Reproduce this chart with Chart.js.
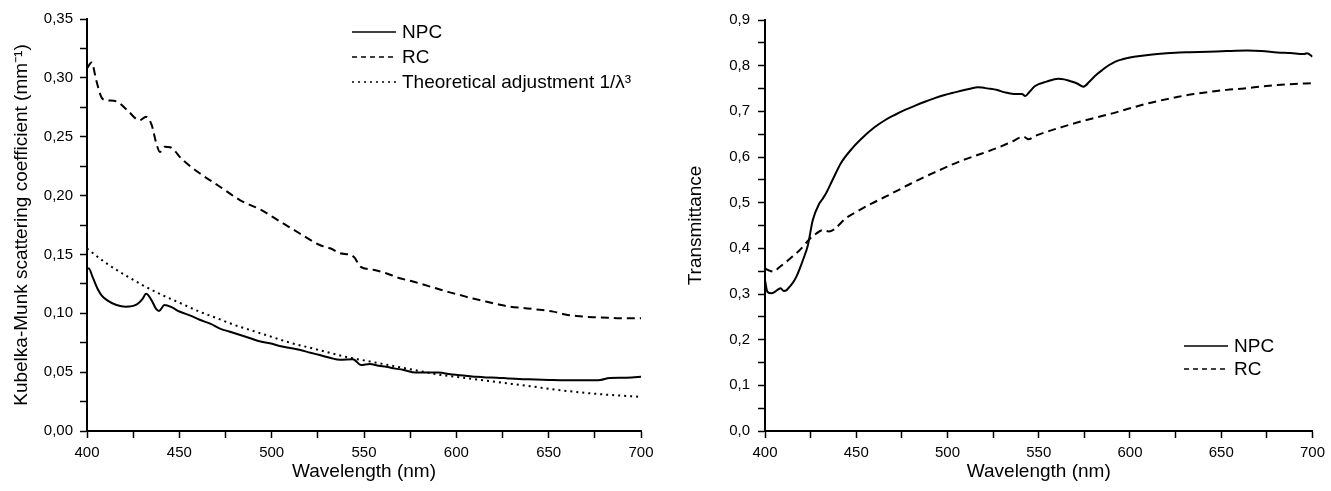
<!DOCTYPE html>
<html>
<head>
<meta charset="utf-8">
<script src="https://cdn.jsdelivr.net/npm/chart.js@4/dist/chart.umd.min.js"></script>
<style>
  body { margin: 0; background: #fff; }
  .panel { position: absolute; top: 0; }
</style>
</head>
<body>
<div class="panel" style="left:0"><canvas id="kmChart" width="660" height="491"></canvas></div>
<div class="panel" style="left:660px"><canvas id="transChart" width="671" height="491"></canvas></div>
<script>
// Kubelka-Munk scattering coefficient (left panel)
const kmNpcWl = [400, 401, 403, 406, 408, 411, 416, 421, 427, 430, 432, 435, 437.5, 439, 442, 446, 450, 456, 461, 467, 472, 477, 483, 488, 494, 499, 505, 510, 515, 521, 526, 532, 537, 544, 548.5, 553, 558, 562, 567, 571, 578, 585, 590, 598, 605, 611, 616, 622, 628, 634, 643, 652, 660, 667, 674, 678, 683, 690, 695, 700];
const kmNpcVal = [0.138, 0.138, 0.131, 0.120, 0.115, 0.111, 0.107, 0.1055, 0.1075, 0.112, 0.1165, 0.111, 0.1035, 0.102, 0.107, 0.105, 0.1015, 0.098, 0.0945, 0.091, 0.087, 0.0845, 0.0815, 0.079, 0.076, 0.0745, 0.072, 0.0705, 0.069, 0.0665, 0.0645, 0.062, 0.0605, 0.061, 0.056, 0.057, 0.0555, 0.0545, 0.053, 0.052, 0.0496, 0.0497, 0.0496, 0.048, 0.047, 0.046, 0.0455, 0.0453, 0.0447, 0.0442, 0.0438, 0.0433, 0.0431, 0.0431, 0.0432, 0.0434, 0.045, 0.0452, 0.0455, 0.046];

const kmRcWl = [400, 402.5, 405, 408, 410.5, 416, 421.5, 428.5, 432, 435, 437.5, 439.5, 442, 445, 452, 461, 472, 483, 494, 504.5, 515, 526, 532, 537, 543, 545, 548, 555, 562, 569, 577, 583, 589, 596, 602, 609, 616.5, 623, 629, 636, 643.5, 652.5, 659, 665, 670, 676, 682, 688.6, 695, 700];
const kmRcVal = [0.308, 0.313, 0.298, 0.283, 0.281, 0.280, 0.273, 0.264, 0.267, 0.260, 0.2445, 0.237, 0.2415, 0.241, 0.230, 0.219, 0.2075, 0.196, 0.188, 0.178, 0.168, 0.158, 0.155, 0.151, 0.1495, 0.147, 0.1396, 0.137, 0.134, 0.130, 0.1268, 0.124, 0.1212, 0.118, 0.1155, 0.1125, 0.1098, 0.1075, 0.1056, 0.1045, 0.1033, 0.1014, 0.099, 0.0977, 0.097, 0.0966, 0.0962, 0.0957, 0.0957, 0.0957];

const kmTheoWl = [400, 410, 420, 430, 440, 450, 460, 470, 480, 490, 500, 510, 520, 530, 540, 550, 560, 570, 580, 590, 600, 620, 640, 660, 680, 700];
const kmTheoVal = [0.155, 0.143, 0.133, 0.124, 0.116, 0.109, 0.102, 0.096, 0.090, 0.085, 0.080, 0.075, 0.071, 0.067, 0.063, 0.060, 0.057, 0.054, 0.051, 0.048, 0.046, 0.042, 0.038, 0.034, 0.031, 0.029];

// Transmittance (right panel)
const trNpcWl = [400, 401.3, 403.6, 405.5, 407.2, 408.5, 410.3, 412, 413.5, 415.5, 417.2, 419, 420.8, 423.5, 426.2, 429.8, 431.5, 433.4, 437, 441.5, 447.8, 455, 460, 465.9, 471, 476.7, 482, 487.6, 493, 498.4, 504, 509.2, 513, 516.4, 519, 521.8, 527.3, 531, 536.3, 540.8, 542.6, 545, 548, 554.3, 560.7, 564, 567, 571, 574.5, 578, 581.4, 585, 588.6, 592, 595.9, 600, 606.7, 615, 624.7, 633, 642.8, 653, 664.4, 672, 680.7, 688, 695.1, 697, 700];
const trNpcVal = [0.33, 0.305, 0.3015, 0.305, 0.310, 0.3124, 0.3065, 0.309, 0.316, 0.326, 0.338, 0.355, 0.3745, 0.407, 0.462, 0.4985, 0.508, 0.520, 0.5496, 0.586, 0.619, 0.648, 0.665, 0.681, 0.692, 0.703, 0.712, 0.721, 0.729, 0.7357, 0.7415, 0.7467, 0.750, 0.7525, 0.752, 0.7503, 0.7467, 0.742, 0.738, 0.738, 0.7335, 0.743, 0.7554, 0.765, 0.7714, 0.770, 0.7664, 0.761, 0.754, 0.766, 0.7795, 0.791, 0.8014, 0.809, 0.814, 0.818, 0.8218, 0.8255, 0.8284, 0.8295, 0.8306, 0.832, 0.833, 0.832, 0.829, 0.8275, 0.8255, 0.827, 0.8196];

const trRcWl = [400, 402, 404.5, 408, 411.8, 415, 419, 424.4, 428, 431.6, 435, 438, 444.2, 451, 458.6, 466, 473.1, 480, 487.6, 495, 501.9, 509, 516.4, 522, 527.3, 535, 541.7, 544.4, 548, 554.3, 563, 572.4, 581, 590.4, 599, 608.5, 617, 626.5, 635, 644.6, 653, 662.6, 671, 680.7, 690, 699.6];
const trRcVal = [0.356, 0.352, 0.349, 0.359, 0.371, 0.382, 0.396, 0.420, 0.432, 0.440, 0.437, 0.442, 0.4657, 0.482, 0.4985, 0.513, 0.5277, 0.542, 0.5568, 0.570, 0.5824, 0.594, 0.6043, 0.612, 0.620, 0.633, 0.6444, 0.6387, 0.646, 0.655, 0.666, 0.677, 0.686, 0.6956, 0.7055, 0.716, 0.724, 0.732, 0.738, 0.743, 0.747, 0.750, 0.754, 0.7576, 0.760, 0.7613];

const FONT = '"Liberation Sans", Arial, sans-serif';
Chart.defaults.font.family = FONT;
Chart.defaults.color = '#000';

const zip = (xs, ys) => xs.map((x, i) => ({ x: x, y: ys[i] }));

function lineSet(label, xs, ys, dash) {
  return {
    label: label,
    data: zip(xs, ys),
    borderColor: '#000',
    borderWidth: 2,
    borderDash: dash,
    pointRadius: 0,
    fill: false,
    cubicInterpolationMode: 'monotone'
  };
}

// legend drawn inside the plot, like the original figure
const innerLegend = {
  id: 'innerLegend',
  afterDraw(chart, args, opts) {
    const ctx = chart.ctx;
    ctx.save();
    ctx.font = '19px ' + FONT;
    ctx.textBaseline = 'middle';
    ctx.fillStyle = '#000';
    ctx.strokeStyle = '#000';
    chart.data.datasets.forEach((ds, i) => {
      const y = opts.y + i * opts.gap;
      ctx.beginPath();
      ctx.lineWidth = 1.6;
      ctx.setLineDash(opts.dashes[i]);
      ctx.moveTo(opts.x, y);
      ctx.lineTo(opts.x + 44, y);
      ctx.stroke();
      ctx.setLineDash([]);
      ctx.fillText(ds.label, opts.x + 50, y + 1);
    });
    ctx.restore();
  }
};

function axisX() {
  return {
    type: 'linear',
    min: 400,
    max: 700,
    afterFit: s => { s.height = 60; },
    border: { color: '#000', width: 2 },
    grid: { drawOnChartArea: false, tickLength: 7, tickColor: '#000', tickWidth: 1.5 },
    ticks: {
      stepSize: 25,
      padding: 6,
      maxRotation: 0,
      font: { size: 15 },
      callback: (v, i) => i % 2 ? '' : String(v)
    },
    title: { display: true, text: 'Wavelength (nm)', font: { size: 19 }, padding: { top: 0, bottom: 8 } }
  };
}

new Chart('kmChart', {
  type: 'line',
  data: {
    datasets: [
      lineSet('NPC', kmNpcWl, kmNpcVal, []),
      lineSet('RC', kmRcWl, kmRcVal, [8, 5]),
      lineSet('Theoretical adjustment 1/λ³', kmTheoWl, kmTheoVal, [2, 4])
    ]
  },
  options: {
    responsive: false,
    animation: false,
    layout: { padding: { left: 0, top: 19, right: 19, bottom: 0 } },
    plugins: {
      legend: { display: false },
      tooltip: { enabled: false },
      innerLegend: { x: 352, y: 32, gap: 25, dashes: [[], [5, 4], [2, 4]] }
    },
    scales: {
      x: axisX(),
      y: {
        min: 0,
        max: 0.35,
        afterFit: s => { s.width = 87; },
        border: { color: '#000', width: 2 },
        grid: { drawOnChartArea: false, tickLength: 7, tickColor: '#000', tickWidth: 1.5 },
        ticks: {
          stepSize: 0.025,
          padding: 7,
          font: { size: 15 },
          callback: (v, i) => i % 2 ? '' : v.toFixed(2).replace('.', ',')
        },
        title: { display: true, text: 'Kubelka-Munk scattering coefficient (mm⁻¹)', font: { size: 19 }, padding: { top: 10, bottom: 0 } }
      }
    }
  },
  plugins: [innerLegend]
});

new Chart('transChart', {
  type: 'line',
  data: {
    datasets: [
      lineSet('NPC', trNpcWl, trNpcVal, []),
      lineSet('RC', trRcWl, trRcVal, [8, 5])
    ]
  },
  options: {
    responsive: false,
    animation: false,
    layout: { padding: { left: 0, top: 20, right: 12, bottom: 0 } },
    plugins: {
      legend: { display: false },
      tooltip: { enabled: false },
      innerLegend: { x: 524, y: 346, gap: 23, dashes: [[], [5, 4]] }
    },
    scales: {
      x: axisX(),
      y: {
        min: 0,
        max: 0.9,
        afterFit: s => { s.width = 105; },
        border: { color: '#000', width: 2 },
        grid: { drawOnChartArea: false, tickLength: 7, tickColor: '#000', tickWidth: 1.5 },
        ticks: {
          stepSize: 0.05,
          padding: 8,
          font: { size: 15 },
          callback: (v, i) => i % 2 ? '' : v.toFixed(1).replace('.', ',')
        },
        title: { display: true, text: 'Transmittance', font: { size: 19 }, padding: { top: 24, bottom: 0 } }
      }
    }
  },
  plugins: [innerLegend]
});
</script>
</body>
</html>
